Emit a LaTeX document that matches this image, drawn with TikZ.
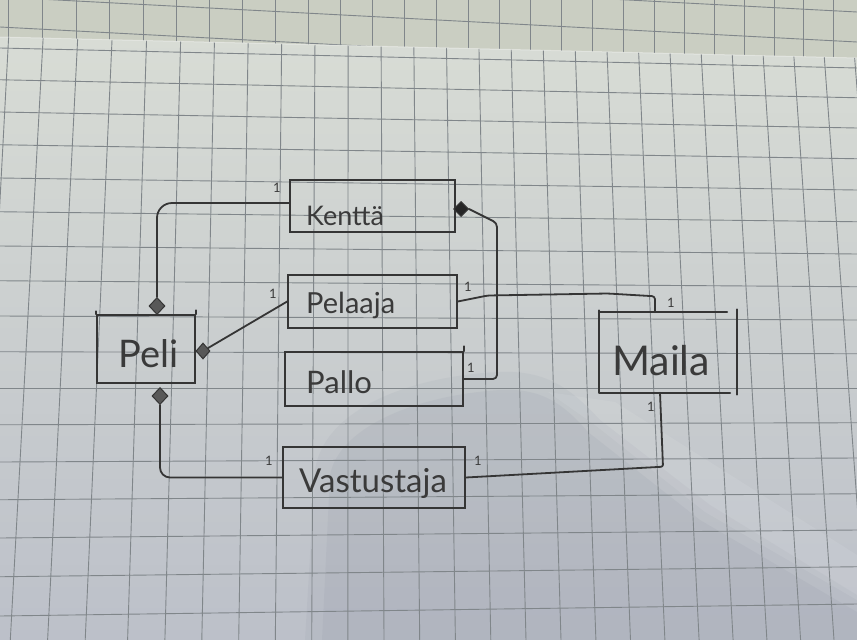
\documentclass[tikz,border=0pt]{standalone}
\usepackage{fontspec}
\setmainfont{Lato}
\usetikzlibrary{shapes.geometric}
\definecolor{pen}{HTML}{353535}
\definecolor{ink}{HTML}{3A3A3A}
\definecolor{gridc}{HTML}{80868A}
\definecolor{papertop}{HTML}{D8DCD5}
\definecolor{paperbot}{HTML}{BCC0C9}
\definecolor{strip}{HTML}{CACEC2}
\definecolor{shadowc}{HTML}{7A8194}
\definecolor{diamfill}{HTML}{585858}
\definecolor{diamdark}{HTML}{262626}
\newcommand{\handsz}[1]{\fontsize{#1}{#1}\selectfont}
\tikzset{
  pen/.style={draw=pen, line width=1.8pt, line cap=round, line join=round},
  box/.style={draw=pen, line width=1.6pt, rectangle, inner sep=0pt},
  lbl/.style={text=ink, inner sep=0pt, anchor=base west},
  mult/.style={text=ink, inner sep=0pt, font=\handsz{13}},
  diam/.style={diamond, draw=pen, line width=1pt, inner sep=0pt, minimum width=16pt, minimum height=17pt},
  gridline/.style={draw=gridc, line width=0.9pt},
}
\begin{document}
\begin{tikzpicture}[x=1pt,y=-1pt]
\useasboundingbox (0,0) rectangle (857,640);
% ---------- paper background ----------
\fill[strip] (0,0) rectangle (857,640);
\begin{scope}
  \clip (0,0) -- (857,0) -- (857,58) -- (0,37) -- cycle;
  \foreach \xs in {8,42,76,109,143,176,209,242,275,308,340,372,404,436,468,499,530,561,592,623,654,684,714,744,774,803,833} {
    \draw[gridline] (\xs,0) -- (\xs,70);
  }
  \draw[gridline] (0,-33) -- (857,12);
  \draw[gridline] (0,-3) -- (857,42);
  \draw[gridline] (0,27) -- (857,72);
\end{scope}
\shade[top color=papertop, bottom color=paperbot] (0,37) -- (857,58) -- (857,640) -- (0,640) -- cycle;
\begin{scope}
  \clip (0,37) -- (857,58) -- (857,640) -- (0,640) -- cycle;
  % soft shadow
  \fill[shadowc, opacity=0.08] (305,640) -- (315,470) .. controls (325,405) and (420,375) .. (500,372)
     .. controls (548,370) and (572,390) .. (600,420) -- (710,505) -- (857,595) -- (857,640) -- cycle;
  \fill[shadowc, opacity=0.09] (322,640) -- (330,475) .. controls (340,425) and (420,395) .. (500,390)
     .. controls (540,388) and (562,402) .. (588,432) -- (700,520) -- (857,612) -- (857,640) -- cycle;
  \fill[white, opacity=0.08] (548,392) -- (615,402) -- (857,555) -- (857,600) -- (705,512) -- (595,425) -- cycle;
  % horizontal rulings
  \foreach \yl/\yr in {48/68, 79.75/97.75, 112/128, 144.75/158.75, 178/190, 211.75/221.75, 246/254,
       280.75/286.75, 316/320, 351.75/353.75, 388/388, 424.75/422.75, 462/458, 499.75/493.75,
       538/530, 576.75/566.75, 616/604, 655.75/641.75} {
    \draw[gridline] (0,\yl) -- (857,\yr);
  }
  % vertical rulings
  \foreach \xa/\xb in {10.6/-23.3, 45.2/10.3, 79.6/47.6, 113.8/85.2, 147.8/127.6, 181.7/164.9,
       215.3/201.8, 248.8/238.7, 282.1/275.3, 315.2/311.7, 348.1/347.9, 380.9/384.0, 413.4/419.7,
       445.8/455.4, 478.0/490.8, 510.0/526, 541.8/561, 573.5/595.9, 605.0/630.5, 636.3/664.9,
       667.4/699.1, 698.3/733.1, 729.0/766.9, 759.6/800.6, 790.0/834, 820.1/867.1, 850.1/900.1} {
    \draw[gridline] (\xa,0) -- (\xb,640);
  }
\end{scope}
\draw[white, opacity=0.35, line width=1pt] (0,37) -- (857,58);

% ---------- class boxes ----------
\node[box, minimum width=165pt, minimum height=52pt] (kentta) at (372.5,206) {};
\node[box, minimum width=169pt, minimum height=53pt] (pelaaja) at (372.5,301.5) {};
\node[box, minimum width=178pt, minimum height=54pt] (pallo) at (374,379) {};
\node[box, minimum width=98pt, minimum height=68pt] (peli) at (146,349) {};
\node[box, minimum width=182pt, minimum height=61pt] (vastustaja) at (374,477.5) {};
\node[inner sep=0pt, minimum width=138pt, minimum height=80pt] (maila) at (668,352.5) {};
\draw[pen] (maila.north west) -- ([xshift=-10pt]maila.north east);
\draw[pen] ([yshift=2pt]maila.north west) -- (maila.south west) -- ([xshift=-7pt]maila.south east);
\draw[pen] ([yshift=3pt]maila.north east) -- ([yshift=-2pt]maila.south east);
% hand-drawn overshoots
\draw[pen] ([yshift=4pt]peli.north east) -- (peli.north east);
\draw[pen] ([yshift=3pt]peli.north west) -- (peli.north west);
\draw[pen] ([yshift=5pt]pallo.north east) -- (pallo.north east);

% ---------- labels ----------
\node[lbl, font=\handsz{27}] (tkentta) at (306,225) {Kenttä};
\node[lbl, font=\handsz{29}] (tpelaaja) at (306,313) {Pelaaja};
\node[lbl, font=\handsz{31}] (tpallo) at (306,393) {Pallo};
\node[lbl, font=\handsz{38}] (tpeli) at (118,367) {Peli};
\node[lbl, font=\handsz{41}] (tmaila) at (612,375) {Maila};
\node[lbl, font=\handsz{33}] (tvastustaja) at (299,492) {Vastustaja};

% ---------- diamonds ----------
\node[diam, fill=diamfill] (d1) at (157,306) {};
\node[diam, fill=diamfill, minimum width=14pt, minimum height=16pt] (d2) at (203,351) {};
\node[diam, fill=diamfill] (d3) at (160,396) {};
\node[diam, fill=diamdark, minimum width=15pt, minimum height=15pt] (d4) at (461,209) {};

% ---------- connectors ----------
\draw[pen, rounded corners=15pt] (d1.north) |- ([yshift=3pt]kentta.west);
\draw[pen] (d2) -- (pelaaja.west);
\draw[pen, rounded corners=4pt] (d4.east) -- ++(28,14) |- (pallo.east);
\draw[pen, rounded corners=3pt] (pelaaja.east) -- ++(30,-6) -- ++(120,-2)
   -- ([xshift=-13pt,yshift=16pt]maila.north) -- ([xshift=-13pt]maila.north);
\draw[pen, rounded corners=2pt] ([xshift=-8pt]maila.south) -- ++(3,74) -- (vastustaja.east);
\draw[pen, rounded corners=10pt] (d3.south) |- (vastustaja.west);

% ---------- multiplicities ----------
\node[mult] (m1) at (277,188) {1};
\node[mult] (m2) at (273,294) {1};
\node[mult] (m3) at (468,287) {1};
\node[mult] (m4) at (471,368) {1};
\node[mult] (m5) at (671,303) {1};
\node[mult] (m6) at (651,407) {1};
\node[mult] (m7) at (478,461) {1};
\node[mult] (m8) at (269,461) {1};
\end{tikzpicture}
\end{document}
